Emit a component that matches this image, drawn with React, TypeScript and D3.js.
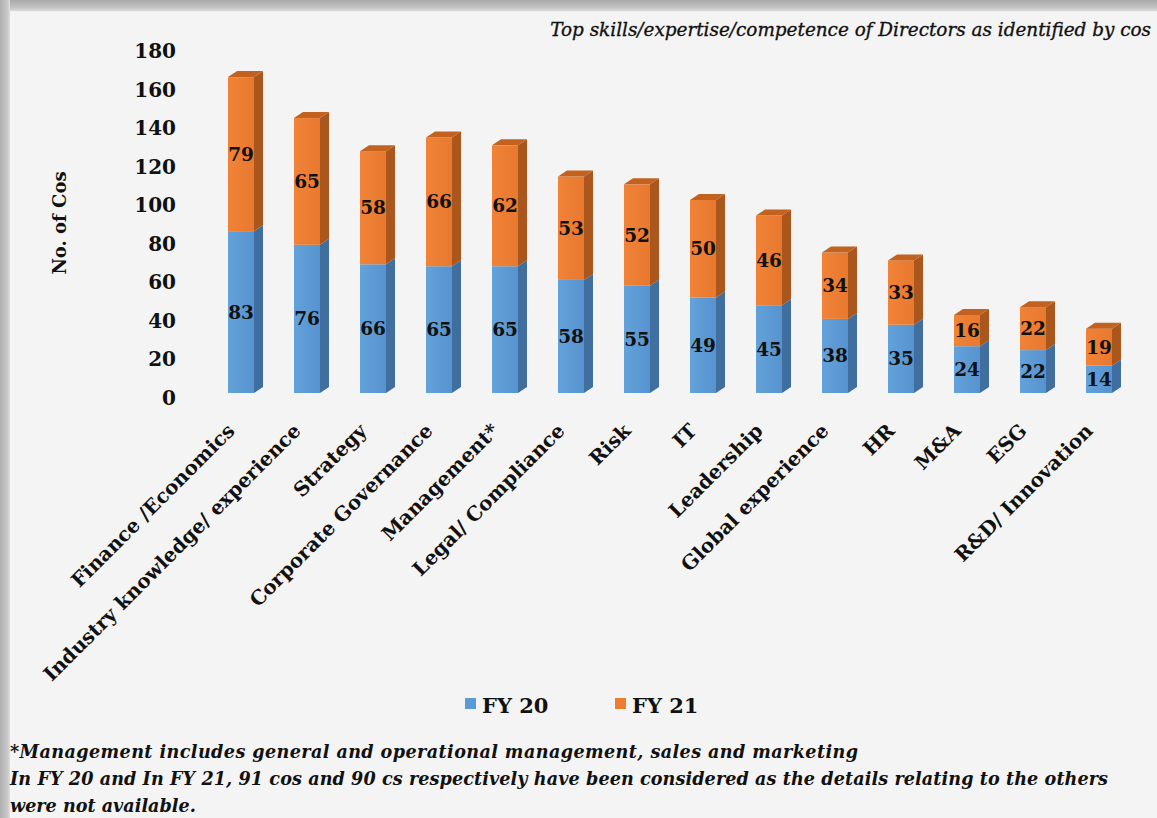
import React from "react";
import * as d3 from "d3";

const categories = [
  "Finance /Economics",
  "Industry knowledge/ experience",
  "Strategy",
  "Corporate Governance",
  "Management*",
  "Legal/ Compliance",
  "Risk",
  "IT",
  "Leadership",
  "Global experience",
  "HR",
  "M&A",
  "ESG",
  "R&D/ Innovation",
];
const fy20 = [83, 76, 66, 65, 65, 58, 55, 49, 45, 38, 35, 24, 22, 14];
const fy21 = [79, 65, 58, 66, 62, 53, 52, 50, 46, 34, 33, 16, 22, 19];
const yTicks = [0, 20, 40, 60, 80, 100, 120, 140, 160, 180];
const seriesNames = ["FY 20", "FY 21"];
const title = "Top skills/expertise/competence of Directors as identified by cos";
const yTitle = "No. of Cos";
const footnotes = [
  "*Management includes general and operational management, sales and marketing",
  "In FY 20 and In FY 21, 91 cos and 90 cs respectively have been considered as the details relating to the others",
  "were not available.",
];
const footnoteWidths = [848, 1098, 0];

const W = 1157;
const H = 818;
const FONT = "'DejaVu Serif', serif";

const colors = {
  blue: { front: "#5b9bd5", side: "#3f6e9f", top: "#4a82b8" },
  orange: { front: "#ed7d31", side: "#ab561c", top: "#c2621e" },
};

export default function App() {
  const x = d3.scaleBand<string>().domain(categories).range([208, 208 + 66 * 14]).padding(0);
  const yBar = d3.scaleLinear().domain([0, 180]).range([393, 393 - 180 * 1.95]);
  const yAxis = d3.scaleLinear().domain([0, 180]).range([398, 51]);
  const half = 13;
  const dx = 9;
  const dy = 6;

  const stack = d3.stack<number>().keys(["0", "1"]).value((i, k) => (k === "0" ? fy20[i] : fy21[i]));
  const series = stack(d3.range(categories.length));

  const bars: React.ReactNode[] = [];
  const labels: React.ReactNode[] = [];
  categories.forEach((c, i) => {
    const cx = (x(c) as number) + x.bandwidth() / 2;
    const x0 = cx - half;
    const x1 = cx + half;
    series.forEach((s, si) => {
      const [v0, v1] = s[i];
      const yb = yBar(v0);
      const yt = yBar(v1);
      const col = si === 0 ? colors.blue : colors.orange;
      bars.push(
        <g key={`b${i}-${si}`}>
          <rect x={x0} y={yt} width={x1 - x0} height={yb - yt} fill={`url(#grad${si})`} />
          <polygon
            points={`${x1},${yb} ${x1 + dx},${yb - dy} ${x1 + dx},${yt - dy} ${x1},${yt}`}
            fill={col.side}
          />
          {si === series.length - 1 && (
            <polygon
              points={`${x0},${yt} ${x0 + dx},${yt - dy} ${x1 + dx},${yt - dy} ${x1},${yt}`}
              fill={col.top}
            />
          )}
        </g>
      );
      labels.push(
        <text
          key={`l${i}-${si}`}
          x={cx}
          y={yBar((v0 + v1) / 2)}
          textAnchor="middle"
          dominantBaseline="central"
          fontFamily={FONT}
          fontWeight="bold"
          fontSize={18.5}
          fill="#111"
        >
          {v1 - v0}
        </text>
      );
    });
  });

  return (
    <svg
      width={W}
      height={H}
      viewBox={`0 0 ${W} ${H}`}
      style={{ position: "absolute", left: 0, top: 0, display: "block" }}
    >
      <defs>
        <linearGradient id="grad0" x1="0" x2="1" y1="0" y2="0">
          <stop offset="0" stopColor="#64a2da" />
          <stop offset="1" stopColor="#5793cf" />
        </linearGradient>
        <linearGradient id="grad1" x1="0" x2="1" y1="0" y2="0">
          <stop offset="0" stopColor="#f08338" />
          <stop offset="1" stopColor="#e8792e" />
        </linearGradient>
        <linearGradient id="topEdge" x1="0" x2="0" y1="0" y2="1">
          <stop offset="0" stopColor="#a9a9a9" />
          <stop offset="0.7" stopColor="#c4c4c4" />
          <stop offset="1" stopColor="#dcdcdc" />
        </linearGradient>
        <linearGradient id="leftEdge" x1="0" x2="1" y1="0" y2="0">
          <stop offset="0" stopColor="#b0b0b0" />
          <stop offset="0.7" stopColor="#c6c6c6" />
          <stop offset="1" stopColor="#dedede" />
        </linearGradient>
      </defs>
      <rect x={0} y={0} width={W} height={H} fill="#f4f4f4" />
      <rect x={0} y={0} width={W} height={11} fill="url(#topEdge)" />
      <rect x={0} y={0} width={10} height={H} fill="url(#leftEdge)" />
      <line x1={10} x2={W} y1={11.5} y2={11.5} stroke="#eeeeee" strokeWidth={1} />

      <text
        x={1151}
        y={36}
        textAnchor="end"
        fontFamily={FONT}
        fontStyle="italic"
        fontSize={18.4}
        stroke="#111"
        strokeWidth={0.35}
        fill="#111"
      >
        {title}
      </text>

      {yTicks.map((t) => (
        <text
          key={t}
          x={176}
          y={yAxis(t)}
          textAnchor="end"
          dominantBaseline="central"
          fontFamily={FONT}
          fontWeight="bold"
          fontSize={20}
          fill="#111"
        >
          {t}
        </text>
      ))}
      <text
        transform={`translate(66,223) rotate(-90)`}
        textAnchor="middle"
        fontFamily={FONT}
        fontWeight="bold"
        fontSize={18}
        fill="#111"
      >
        {yTitle}
      </text>

      {bars}
      {labels}

      {categories.map((c) => {
        const cx = (x(c) as number) + x.bandwidth() / 2;
        return (
          <text
            key={c}
            transform={`translate(${cx - 5},432) rotate(-45)`}
            textAnchor="end"
            fontFamily={FONT}
            fontWeight="bold"
            fontSize={19.8}
            fill="#111"
          >
            {c}
          </text>
        );
      })}

      {seriesNames.map((s, i) => (
        <g key={s} transform={`translate(${465 + i * 150},0)`}>
          <rect x={0} y={698} width={11} height={11} fill={i === 0 ? colors.blue.front : colors.orange.front} />
          <text x={17} y={713} fontFamily={FONT} fontWeight="bold" fontSize={21} fill="#111">
            {s}
          </text>
        </g>
      ))}

      {footnotes.map((f, i) => (
        <text
          key={i}
          x={10}
          y={758 + i * 27}
          fontFamily={FONT}
          fontStyle="italic"
          fontWeight="bold"
          fontSize={17.6}
          fill="#111"
          {...(footnoteWidths[i] > 0 ? { textLength: footnoteWidths[i], lengthAdjust: "spacing" } : {})}
        >
          {f}
        </text>
      ))}
    </svg>
  );
}
